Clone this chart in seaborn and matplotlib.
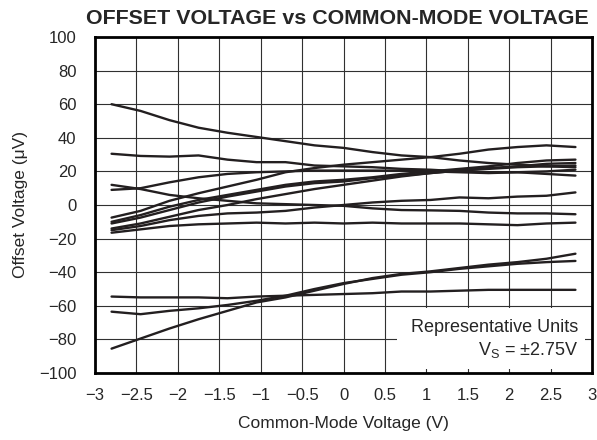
import numpy as np
import pandas as pd
import matplotlib
matplotlib.use("Agg")
import matplotlib.pyplot as plt
import seaborn as sns
from matplotlib.patches import Rectangle

# Common-mode voltage sample points (V)
vcm = [-2.8, -2.45, -2.1, -1.75, -1.4, -1.05, -0.7, -0.35, 0.0,
       0.35, 0.7, 1.05, 1.4, 1.75, 2.1, 2.45, 2.8]

# Offset voltage (uV) of each representative unit
unit_a = [60, 56, 50.5, 46, 43, 40.5, 38, 35.5, 34, 31.5, 29.5, 28.5, 26.5, 25, 24, 23, 22.5]
unit_b = [30.5, 29.2, 28.8, 29.5, 27, 25.5, 25.5, 23.5, 23, 22.5, 21.5, 21, 20, 19.5, 19.5, 18.5, 17.5]
unit_c = [9, 10, 13.5, 16.5, 18.5, 19.5, 20, 20.5, 20.5, 20.5, 20.5, 20, 19.5, 19, 19.5, 20, 21]
unit_d = [12, 9.5, 6, 4, 2.5, 1, 0.5, 0, -0.5, -2, -3, -3.2, -3.5, -4.5, -5, -5, -5.5]
unit_e = [-7.5, -3.5, 2.5, 7, 11, 15, 19.5, 22, 24, 25.5, 27, 28.5, 30.5, 33, 34.5, 35.5, 34.5]
unit_f = [-10, -6, -1, 3, 6, 9, 12, 14, 15, 16.5, 18.5, 20, 21.5, 23, 25, 26.5, 27]
unit_g = [-11, -7.5, -3, 1.5, 5, 8, 11, 13, 14, 16, 17.5, 19, 20.5, 22, 23, 24.5, 25]
unit_h = [-14, -11, -7, -3, 0, 3.5, 6.5, 9.5, 12, 14.5, 17, 19, 20.5, 21.5, 22.5, 23, 23.5]
unit_i = [-15, -12.5, -9, -6.5, -5, -4.5, -3.5, -1.5, 0, 1.5, 2.5, 3, 4.5, 4, 5, 5.5, 7.5]
unit_j = [-16.5, -14.5, -12.5, -11.5, -11, -10.5, -11, -10.5, -11, -10.5, -11, -11, -11, -11.5, -12, -11, -10.5]
unit_k = [-54.5, -55, -55, -55, -55.5, -54.5, -54, -53.5, -53, -52.5, -51.5, -51.5, -51, -50.5, -50.5, -50.5, -50.5]
unit_l = [-63.5, -65, -63, -61.5, -59.5, -57, -54, -50, -46.5, -44, -41.5, -40, -38, -36.5, -35, -34, -33.3]
unit_m = [-85.5, -79.5, -73.5, -68, -63, -58, -55, -51, -47, -43.5, -41, -39.5, -37.5, -35.5, -34, -32, -29]

units = {"A": unit_a, "B": unit_b, "C": unit_c, "D": unit_d, "E": unit_e,
         "F": unit_f, "G": unit_g, "H": unit_h, "I": unit_i, "J": unit_j,
         "K": unit_k, "L": unit_l, "M": unit_m}

x_ticks = [-3, -2.5, -2, -1.5, -1, -0.5, 0, 0.5, 1, 1.5, 2, 2.5, 3]
x_tick_labels = ["\u22123", "\u22122.5", "\u22122", "\u22121.5", "\u22121", "\u22120.5",
                 "0", "0.5", "1", "1.5", "2", "2.5", "3"]
y_ticks = [-100, -80, -60, -40, -20, 0, 20, 40, 60, 80, 100]
y_tick_labels = ["\u2212100", "\u221280", "\u221260", "\u221240", "\u221220",
                 "0", "20", "40", "60", "80", "100"]

rows = []
for name, vals in units.items():
    for v, o in zip(vcm, vals):
        rows.append({"unit": name, "vcm": v, "vos": o})
df = pd.DataFrame(rows)

sns.set_style("white")
plt.rcParams["font.family"] = ["Liberation Sans", "DejaVu Sans"]

W, H = 597, 440
fig = plt.figure(figsize=(W / 100, H / 100), dpi=100)
ax = fig.add_axes([95 / W, 67 / H, 497 / W, 336 / H])

ax.set_axisbelow(True)
ax.grid(True, color="#303030", linewidth=0.8)

sns.lineplot(data=df, x="vcm", y="vos", units="unit", estimator=None,
             color="#231f20", linewidth=1.7, ax=ax, zorder=3, sort=False)

ax.set_xlim(-3, 3)
ax.set_ylim(-100, 100)
ax.set_xticks(x_ticks)
ax.set_xticklabels(x_tick_labels, fontsize=12)
ax.set_yticks(y_ticks)
ax.set_yticklabels(y_tick_labels, fontsize=12)
ax.tick_params(axis="x", direction="in", length=0, pad=11)
ax.tick_params(axis="y", direction="in", length=0, pad=13.5)

for sp in ax.spines.values():
    sp.set_color("black")
    sp.set_linewidth(2.0)

# white box behind annotation
ax.add_patch(Rectangle((0.608, 0.012), 0.378, 0.181, transform=ax.transAxes,
                       facecolor="white", edgecolor="none", zorder=2))
fig.text(578 / W, 1 - 331.5 / H, "Representative Units", ha="right", va="baseline",
         fontsize=13, zorder=5)
fig.text(578 / W, 1 - 355 / H, "V$_\\mathregular{S}$ = \u00b12.75V", ha="right",
         va="baseline", fontsize=13, zorder=5)

ax.set_xlabel("Common-Mode Voltage (V)", fontsize=12.5)
ax.xaxis.set_label_coords(0.5, (373 - 416) / 336)
ax.set_ylabel("Offset Voltage (\u03bcV)", fontsize=12.5)
ax.yaxis.set_label_coords((28 - 95) / 497, 0.5)

fig.text(589 / W, 1 - 24 / H, "OFFSET VOLTAGE vs COMMON-MODE VOLTAGE",
         ha="right", va="baseline", fontsize=15.4, fontweight="bold")

fig.savefig("out.png", dpi=100)
